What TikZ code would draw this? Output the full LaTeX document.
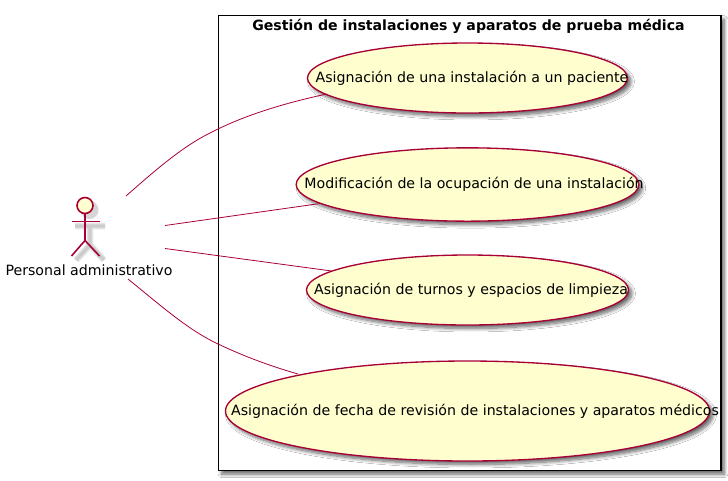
\documentclass[tikz,border=0pt]{standalone}
\usepackage{fontspec}
\setmainfont{DejaVu Sans}
\usetikzlibrary{shapes.geometric,shadows.blur}
\definecolor{umlline}{HTML}{A80036}
\definecolor{umlfill}{HTML}{FEFECE}
\tikzset{
  softshadow/.style={blur shadow={shadow xshift=2.6pt,shadow yshift=-2.6pt,shadow blur radius=2.6pt,shadow blur steps=8,shadow opacity=60}},
  labeltext/.style={font=\fontsize{10.62pt}{12pt}\selectfont,inner sep=0pt},
  usecase/.style={ellipse,draw=umlline,fill=umlfill,line width=1pt,inner sep=0pt,softshadow},
  link/.style={draw=umlline,line width=0.6pt},
  actorline/.style={draw=umlline,line width=1.2pt},
  actorshade/.style={draw=black!40,opacity=0.2,line width=#1},
  frame/.style={draw=black,fill=white,line width=1.1pt,softshadow},
}
\begin{document}
\begin{tikzpicture}[x=0.75pt,y=-0.75pt]
\useasboundingbox (0,0) rectangle (728,480);
\fill[white] (0,0) rectangle (728,480);
\node[frame,minimum width=377pt,minimum height=341.25pt,inner sep=0pt,anchor=north west] (sys) at (217.5,15) {};
\node[font=\bfseries\fontsize{10.58pt}{12pt}\selectfont,inner sep=0pt] (title) at (468.5,26) {Gestión de instalaciones y aparatos de prueba médica};
\node[usecase,minimum width=240pt,minimum height=52.5pt] (u1) at (467.5,78) {};
\node[usecase,minimum width=257pt,minimum height=55pt] (u2) at (467.5,184.5) {};
\node[usecase,minimum width=241.5pt,minimum height=52.5pt] (u3) at (467.5,290) {};
\node[usecase,minimum width=363pt,minimum height=75pt] (u4) at (467.5,411) {};
\node[labeltext] (t1) at (472,78) {Asignación de una instalación a un paciente};
\node[labeltext] (t2) at (474,184) {Modificación de la ocupación de una instalación};
\node[labeltext] (t3) at (471,290) {Asignación de turnos y espacios de limpieza};
\node[labeltext] (t4) at (475,411.5) {Asignación de fecha de revisión de instalaciones y aparatos médicos};
% actor shadow
\foreach \w in {5pt,3.5pt,2pt}{
  \draw[actorshade=\w] (75,226) -- (105,226) (90,226) -- (90,245) -- (76,260) (90,245) -- (104,260);
}
\fill[black!40,opacity=0.4] (89.5,210) circle (9);
% actor
\node[circle,draw=umlline,fill=umlfill,line width=1.2pt,minimum size=12pt,inner sep=0pt] (head) at (85,205.5) {};
\coordinate (arml) at (71.5,221.5);
\coordinate (armr) at (99.5,221.5);
\coordinate (hip) at (85,240.5);
\coordinate (legl) at (71.5,256);
\coordinate (legr) at (99.5,256);
\draw[actorline] (head) -- (hip);
\draw[actorline] (arml) -- (armr);
\draw[actorline] (legl) -- (hip) -- (legr);
\node[labeltext] (actor) at (89,270) {Personal administrativo};
% connector ends
\coordinate (a1) at (126,196);
\coordinate (a2) at (165,225.5);
\coordinate (a3) at (165,248.5);
\coordinate (a4) at (128,279);
\draw[link] (a1) .. controls (160,166) and (185,145) .. (212,132) .. controls (245,115) and (285,103) .. ([xshift=-105.6pt,yshift=-12pt]u1.center);
\draw[link] (a2) -- ([xshift=-110.6pt,yshift=-14.25pt]u2.center);
\draw[link] (a3) -- ([xshift=-101.85pt,yshift=14.25pt]u3.center);
\draw[link] (a4) .. controls (160,305) and (185,327) .. (212,341) .. controls (240,355) and (270,366) .. ([xshift=-127.1pt,yshift=27.75pt]u4.center);
\end{tikzpicture}
\end{document}
